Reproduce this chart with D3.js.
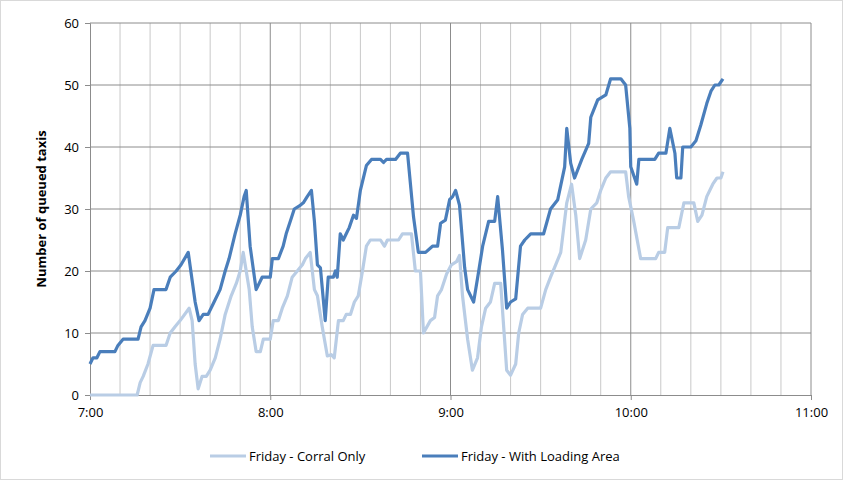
<!doctype html>
<html lang="en">
<head>
<meta charset="utf-8">
<title>Queued taxis</title>
<style>
body { margin: 0; background: #fff; font-family: "Open Sans", "DejaVu Sans", sans-serif; }
svg { display: block; }
</style>
</head>
<body>
<script src="https://d3js.org/d3.v7.min.js"></script>
<script>
// minutes after 7:00 and queued taxis
var corralTimes = [0,15.7,16.7,17.7,19.3,21,25.3,26.7,28.3,30,33,34,35,36,37.3,38.7,40,41.7,43.3,45,47,48.7,50,51,53,54,55.3,56.7,57.7,60,61,62.7,64,65.7,67.3,69,70.7,71.7,73.3,74.7,75.7,77.3,79,80.3,81.3,82.7,84.3,85.3,86.7,88,89.3,90.7,92,93.3,96.7,98,99,102.7,104,107,108.3,110,111,113.3,114.7,115.7,117,118.7,120.3,122,123,124,125.7,127.3,129,130.3,131.7,133.3,134.7,136.7,137.7,138.7,140,141.7,142.7,144,145.7,150,151.7,153.3,155,156.7,157.7,158.7,160.3,161.7,163,165,166.7,168.7,170,171.7,173.3,178.3,179.3,181,183.3,188.3,189.3,191.3,192.3,196,197.7,201,202.3,203.7,205.3,207.3,208.7,210,210.7];
var corralValues = [0,0,2,3,5,8,8,10,11,12,14,12,5,1,3,3,4,6,9,13,16,18,20,23,17,11,7,7,9,9,12,12,14,16,19,20,21,22,23,17,16,11,6.3,6.5,6,12,12,13,13,15,16,20,24,25,25,24,25,25,26,26,20,20,10,12,12.5,16,17,19.5,21,21.5,22.5,16,9,4,6,11,14,15,18,18,11,4,3.2,5,10,13,14,14,17,19,21,23,27,31,34,29,22,25,30,31,33,35,36,36,32,28,22,22,23,23,27,27,31,31,28,29,32,34,35,35,36];
var loadingTimes = [0,1,2.3,3.3,8.3,9.3,11,16,17,18.3,20,21.3,25.3,26.7,28.7,30.3,32.7,35,36.3,37.7,39.3,41.3,43.3,45,46.3,48.3,50,51.3,52,53.3,55.3,57.3,60,60.7,62.7,64.3,65.3,67,68,69.7,71,72.3,73.7,74.7,75.7,76.7,78.3,79.3,81,81.7,82.3,83.3,84.3,85.3,86.3,87.7,88.7,90,92,93.7,96.7,97.7,98.7,101.7,103.3,105.7,107.7,109.3,111.7,114,115.7,116.7,118.3,119.7,120.7,121.7,123,124.7,125.7,127.7,129.3,130.7,132.7,134.7,135.7,137.3,138.7,140,141.7,143.3,144.7,146.7,151,153.3,155.7,158,158.7,160,161.3,163.7,166,166.7,169,171.7,173.3,176.7,178.3,179.7,180,182,182.7,188,189.3,191.7,193,194.7,195.3,196.7,197.3,200,201.7,203.3,205.3,206.7,208,209.3,210.7];
var loadingValues = [5,6,6,7,7,8,9,9,11,12,14,17,17,19,20,21,23,15,12,13,13,15,17,20,22,26,29,32,33,24,17,19,19,22,22,24,26,28.5,30,30.5,31,32,33,28,21,20.5,12,19,19,20,19,26,25,26,27,29,28.5,33,37,38,38,37.5,38,38,39,39,28.7,23,23,24,24,27.7,28.2,31.5,32,33,30.6,20.6,17,15,19.7,24,28,28,32,23.4,14,15,15.5,24,25,26,26,30,31.5,36.8,43,37.4,35,38,40.6,44.8,47.6,48.4,51,51,50,43,36.8,34,38,38,39,39,43,39,35,35,40,40,41,43.5,47,49,50,50,51];
var seriesNames = ["Friday - Corral Only", "Friday - With Loading Area"];
var seriesColors = ["#b9cde5", "#4a7ebb"];
var xTickLabels = ["7:00", "8:00", "9:00", "10:00", "11:00"];
var yTicks = [0, 10, 20, 30, 40, 50, 60];

var W = 843, H = 480;
var svg = d3.select("body").append("svg").attr("width", W).attr("height", H);
svg.append("rect").attr("x", 0.5).attr("y", 0.5).attr("width", W - 1).attr("height", H - 1)
    .attr("fill", "#fff").attr("stroke", "#d9d9d9");

var plotL = 90, plotR = 811, plotT = 23, plotB = 395;
var x = d3.scaleLinear().domain([0, 240]).range([plotL, plotR]);
var y = d3.scaleLinear().domain([0, 60]).range([plotB, plotT]);

var g = svg.append("g");
// vertical grid every 10 minutes
g.selectAll("line.vg").data(d3.range(10, 241, 10)).enter().append("line")
    .attr("x1", d => x(d)).attr("x2", d => x(d)).attr("y1", plotT).attr("y2", plotB)
    .attr("stroke", d => d % 60 === 0 ? "#8c8c8c" : "#c8c8c8").attr("stroke-width", 1);
g.selectAll("line.hg").data(yTicks.slice(1)).enter().append("line")
    .attr("x1", plotL).attr("x2", plotR).attr("y1", d => y(d)).attr("y2", d => y(d))
    .attr("stroke", "#8c8c8c");

var yAxis = svg.append("g").attr("transform", "translate(" + plotL + ",0)")
    .call(d3.axisLeft(y).tickValues(yTicks).tickSize(5).tickPadding(6));
var xAxis = svg.append("g").attr("transform", "translate(0," + plotB + ")")
    .call(d3.axisBottom(x).tickValues([0, 60, 120, 180, 240]).tickSize(5).tickPadding(8)
        .tickFormat((d, i) => xTickLabels[i]));
[xAxis, yAxis].forEach(function (a) {
    a.selectAll("path, line").attr("stroke", "#8c8c8c");
    a.selectAll("text").attr("font-size", 13).attr("fill", "#000")
        .attr("font-family", "'Open Sans', sans-serif");
});

svg.append("text").attr("transform", "translate(46," + ((plotT + plotB) / 2) + ") rotate(-90)")
    .attr("text-anchor", "middle").attr("font-size", 13).attr("font-weight", "bold")
    .text("Number of queued taxis");

var line = d3.line().x(d => x(d[0])).y(d => y(d[1]));
var series = [d3.zip(corralTimes, corralValues), d3.zip(loadingTimes, loadingValues)];
series.forEach(function (s, i) {
    svg.append("path").datum(s).attr("d", line).attr("fill", "none")
        .attr("stroke", seriesColors[i]).attr("stroke-width", 3.2).attr("stroke-linejoin", "round");
});

var legX = [210, 422];
seriesNames.forEach(function (n, i) {
    svg.append("line").attr("x1", legX[i]).attr("x2", legX[i] + 36).attr("y1", 456).attr("y2", 456)
        .attr("stroke", seriesColors[i]).attr("stroke-width", 3.2);
    svg.append("text").attr("x", legX[i] + 39).attr("y", 461).attr("font-size", 13).text(n);
});
</script>
</body>
</html>
